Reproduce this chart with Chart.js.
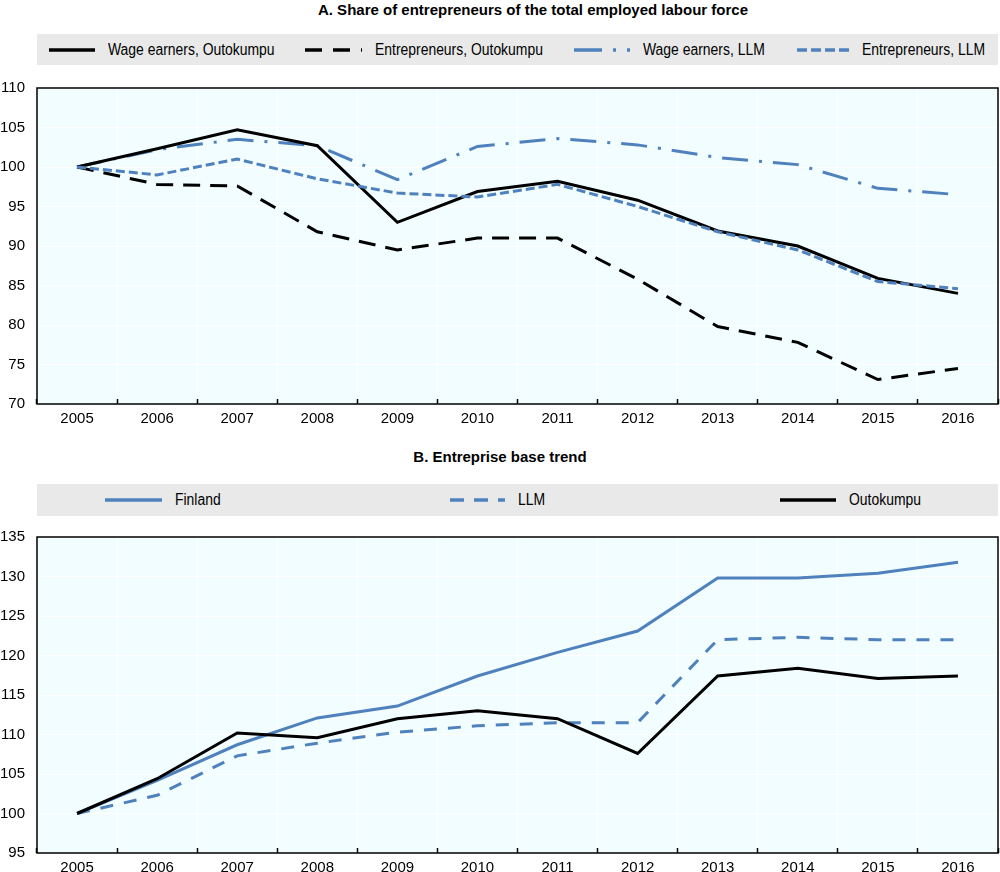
<!DOCTYPE html>
<html>
<head>
<meta charset="utf-8">
<script src="https://cdn.jsdelivr.net/npm/chart.js@4.4.0/dist/chart.umd.min.js"></script>
<style>
  html, body { margin: 0; padding: 0; width: 1000px; height: 872px; overflow: hidden; background: #fff; }
  body { position: relative; font-family: "Liberation Sans Narrow", "Arial Narrow", "Liberation Sans", Arial, sans-serif; color: #000; }
  .title { position: absolute; height: 20px; line-height: 20px; font-size: 15px; font-weight: bold; text-align: center; }
  .legend { position: absolute; left: 37px; width: 961px; background: #e9e9e9; }
  .item { position: absolute; top: 0; bottom: 0; display: flex; align-items: center; font-size: 16px; white-space: nowrap; }
  .item span { display: inline-block; transform: scaleX(0.87); transform-origin: left center; }
  .plot { position: absolute; left: 0; width: 1000px; height: 370px; }
</style>
</head>
<body>
<div class="title" style="top:0; left:66px; width:934px">A. Share of entrepreneurs of the total employed labour force</div>
<div class="legend" id="legendA" style="top:34px; height:31px"></div>
<div class="plot" style="top:66px"><canvas id="chartA"></canvas></div>

<div class="title" style="top:447px; left:0; width:1000px">B. Entreprise base trend</div>
<div class="legend" id="legendB" style="top:484px; height:32px"></div>
<div class="plot" style="top:515px"><canvas id="chartB"></canvas></div>

<script>
// Jahre (Kategorien)
const jahre = ["2005", "2006", "2007", "2008", "2009", "2010", "2011", "2012", "2013", "2014", "2015", "2016"];

// A. Share of entrepreneurs of the total employed labour force
const wageOutokumpu = [100, 102.3, 104.7, 102.7, 93.0, 96.9, 98.2, 95.8, 91.9, 90.0, 85.9, 84.0];
const entrepOutokumpu = [100, 97.8, 97.6, 91.8, 89.5, 91.0, 91.0, 85.8, 79.8, 77.8, 73.1, 74.5];
const wageLLM = [100, 102.2, 103.5, 102.7, 98.4, 102.6, 103.6, 102.8, 101.2, 100.3, 97.3, 96.5];
const entrepLLM = [100, 99.0, 101.0, 98.5, 96.7, 96.2, 97.8, 95.0, 91.8, 89.5, 85.5, 84.6];

// B. Entreprise base trend
const finland = [100, 104.2, 108.7, 112.1, 113.6, 117.4, 120.4, 123.1, 129.8, 129.8, 130.4, 131.8];
const llm = [100, 102.3, 107.3, 108.9, 110.3, 111.1, 111.5, 111.5, 122.0, 122.3, 122.0, 122.0];
const outokumpu = [100, 104.4, 110.2, 109.6, 112.0, 113.0, 112.0, 107.6, 117.4, 118.4, 117.1, 117.4];

const BLUE = "#4F81BD";
const BLACK = "#000000";

// Hintergrund und Rahmen der Zeichenfläche
const plotFrame = {
    id: "plotFrame",
    beforeDraw(chart) {
        const { ctx, chartArea: a } = chart;
        ctx.save();
        ctx.fillStyle = "#F2FDFF";
        ctx.fillRect(a.left, a.top, a.width, a.height);
        ctx.restore();
    },
    afterDraw(chart) {
        const { ctx, chartArea: a } = chart;
        ctx.save();
        ctx.strokeStyle = "#000";
        ctx.lineWidth = 1.5;
        ctx.strokeRect(a.left, a.top, a.width, a.height);
        ctx.restore();
    },
};

function linie(label, data, color, dash, order, legendDash) {
    return {
        label: label,
        data: data,
        borderColor: color,
        borderWidth: 3,
        borderDash: dash,
        legendDash: legendDash,
        pointRadius: 0,
        tension: 0,
        fill: false,
        order: order,
    };
}

function erstelle_chart(id, datasets, ymin, ymax) {
    return new Chart(document.getElementById(id), {
        type: "line",
        data: { labels: jahre, datasets: datasets },
        options: {
            responsive: true,
            maintainAspectRatio: false,
            animation: false,
            layout: { padding: { top: 22, right: 2, bottom: 9, left: 0 } },
            plugins: { legend: { display: false }, tooltip: { enabled: false } },
            scales: {
                x: {
                    offset: true,
                    grid: { offset: true, color: "#ffffff", lineWidth: 1, tickColor: "#000", tickWidth: 1.5, tickLength: -5 },
                    border: { display: false },
                    ticks: { padding: 11, color: "#000", font: { size: 15 } },
                    afterFit(scale) { scale.height = 23; },
                },
                y: {
                    min: ymin,
                    max: ymax,
                    grid: { color: "#ffffff", lineWidth: 1, drawTicks: false },
                    border: { display: false },
                    ticks: { stepSize: 5, padding: 12, color: "#000", font: { size: 15 } },
                    afterFit(scale) { scale.width = 37; },
                },
            },
        },
        plugins: [plotFrame],
    });
}

// Legende als HTML
function erstelle_legende(id, datasets, positionen, breiten) {
    const box = document.getElementById(id);
    datasets.forEach((ds, i) => {
        const item = document.createElement("div");
        item.className = "item";
        item.style.left = positionen[i] + "px";
        const w = breiten[i];
        item.innerHTML =
            '<svg width="' + w + '" height="8" style="margin-right:13px">' +
            '<line x1="0" y1="4" x2="' + w + '" y2="4" stroke="' + ds.borderColor + '" stroke-width="3.5" stroke-dasharray="' +
            (ds.legendDash || []).join(" ") + '"/></svg><span>' + ds.label + "</span>";
        box.appendChild(item);
    });
}

Chart.defaults.font.family = '"Liberation Sans Narrow", "Arial Narrow", "Liberation Sans", Arial, sans-serif';
Chart.defaults.color = "#000";

const datenA = [
    linie("Wage earners, Outokumpu", wageOutokumpu, BLACK, [], 2, []),
    linie("Entrepreneurs, Outokumpu", entrepOutokumpu, BLACK, [17, 10], 3, [17, 11]),
    linie("Wage earners, LLM", wageLLM, BLUE, [26, 11, 3, 11], 4, [28, 11, 3, 11, 3, 11]),
    linie("Entrepreneurs, LLM", entrepLLM, BLUE, [9, 4], 1, [10, 4]),
];
const datenB = [
    linie("Finland", finland, BLUE, [], 2, []),
    linie("LLM", llm, BLUE, [13, 11], 3, [14, 10]),
    linie("Outokumpu", outokumpu, BLACK, [], 1, []),
];

erstelle_chart("chartA", datenA, 70, 110);
erstelle_chart("chartB", datenB, 95, 135);

erstelle_legende("legendA", datenA, [12, 268, 537, 760], [46, 57, 56, 52]);
erstelle_legende("legendB", datenB, [68, 413, 743], [57, 55, 56]);
</script>
</body>
</html>
